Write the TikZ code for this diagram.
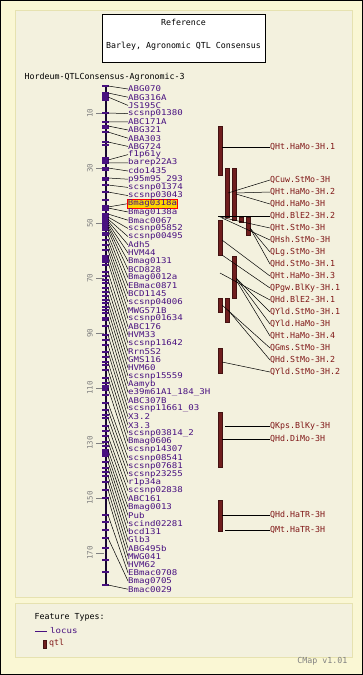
\documentclass[tikz,border=0pt]{standalone}
\usepackage{fontspec}
\newfontfamily\pix{DejaVu Sans Mono}
\newfontfamily\pixw[FakeStretch=1.15]{DejaVu Sans Mono}
\definecolor{outerbg}{RGB}{250,247,212}
\definecolor{innerbg}{RGB}{243,241,222}
\definecolor{panelline}{RGB}{230,226,176}
\definecolor{mk}{RGB}{72,16,128}
\definecolor{qt}{RGB}{128,24,24}
\definecolor{qbar}{RGB}{112,30,30}
\definecolor{chr}{RGB}{24,8,48}
\definecolor{sc}{RGB}{128,128,128}
\definecolor{hlfill}{RGB}{255,214,0}
\begin{document}
\begin{tikzpicture}[x=1pt,y=-1pt,
  font=\pix\fontsize{8.3}{9}\selectfont,
  mlabel/.style={anchor=west,text=mk,inner sep=0pt,font=\pixw\fontsize{7.9}{8}\selectfont},
  hllabel/.style={anchor=west,text=mk,inner sep=0.6pt,fill=hlfill,draw=red,line width=0.6pt,font=\pixw\fontsize{7.9}{8}\selectfont},
  qlabel/.style={anchor=west,text=qt,inner sep=0pt},
  plain/.style={anchor=west,text=black,inner sep=0.5pt},
  conn/.style={draw=black,line width=0.5pt},
  tickm/.style={draw=mk,line width=1.2pt},
  sqm/.style={fill=mk},
  qtlbar/.style={fill=qbar,draw=qbar!60!black,line width=0.3pt,inner sep=0pt,minimum width=4pt,anchor=north west},
  scl/.style={text=sc,rotate=90,inner sep=0.5pt,font=\pix\fontsize{7.5}{8}\selectfont},
]
\useasboundingbox (0,0) rectangle (363,675);
% backgrounds
\fill[outerbg] (0,0) rectangle (363,675);
\draw[black,line width=1pt] (0.5,0.5) rectangle (362.5,674.5);
\filldraw[fill=innerbg,draw=panelline,line width=0.8pt] (15.5,10.5) rectangle (352.5,597.5);
\filldraw[fill=innerbg,draw=panelline,line width=0.8pt] (15.5,603.5) rectangle (352.5,657.5);
% reference box
\node[draw=black,fill=white,line width=0.8pt,minimum width=163pt,minimum height=48pt,inner sep=0pt] (ref) at (183.5,38) {};
\node[text=black,inner sep=0.5pt] (reft) at (183.5,22) {Reference};
\node[text=black,inner sep=0.5pt] (refs) at (183.5,46) {Barley, Agronomic QTL Consensus};
\node[plain] (title) at (24,77) {Hordeum-QTLConsensus-Agronomic-3};
% scale
\foreach \v in {10,30,50,70,90,110,130,150,170}{
  \pgfmathsetmacro\sy{85.5+2.75*\v}
  \draw[sc,line width=0.6pt] (96,\sy) -- (104,\sy);
  \node[scl] (s\v) at (90,\sy) {\v};
}
% chromosome
\coordinate (ctop) at (105.5,86);
\coordinate (cbot) at (105.5,585);
\draw[chr,line width=2pt] (ctop) -- (cbot);
% squares / blocks
\foreach \a/\b in {94/100,157/163,205/211,214/229,257/263,385/391,449/455}{
  \fill[sqm] (102,\a) rectangle (109,\b);
}
% extra ticks
\foreach \t in {100,128,145,170,180,200,233,265,276,283,292,300,307,313,320,340,357,365,383,395,415,431,446,472,522,530,548,560,572}{
  \draw[tickm] (102,\t) -- (109,\t);
}
% markers
\foreach \n/\my [count=\i] in {ABG070/86,ABG316A/93,JS195C/97,scsnp01380/113,ABC171A/122,ABG321/126,ABA303/132,ABG724/142,f1p61y/160,barep22A3/163,cdo1435/168,p95m95\_293/178,scsnp01374/185,scsnp03043/192,Bmag0318a/207,Bmag0138a/208,Bmac0067/214,scsnp05852/217,scsnp00495/219,Adh5/221,HVM44/223,Bmag0131/225,BCD828/227,Bmag0012a/230,EBmac0871/235,BCD1145/240,scsnp04006/245,MWG571B/250,scsnp01634/256,ABC176/262,HVM33/272,scsnp11642/280,Rrn5S2/288,GMS116/296,HVM60/303,scsnp15559/310,Aamyb/318,e39m61A1\_184\_3H/326,ABC307B/335,scsnp11661\_03/345,X3.2/352,X3.3/362,scsnp03814\_2/370,Bmag0606/378,scsnp14307/388,scsnp08541/403,scsnp07681/410,scsnp23255/418,r1p34a/426,scsnp02838/436,ABC161/442,Bmag0013/450,Pub/456,scind02281/462,bcd131/468,Glb3/476,ABG495b/482,MWG041/490,HVM62/498,EBmac0708/515,Bmag0705/538,Bmac0029/585}{
  \pgfmathsetmacro\ly{89+8.2*(\i-1)}
  \coordinate (c\i) at (108,\my);
  \draw[tickm] (102,\my) -- (109,\my);
  \ifnum\i=15
    \node[hllabel] (m\i) at (127,\ly) {\n};
  \else
    \node[mlabel] (m\i) at (128,\ly) {\n};
  \fi
  \draw[conn] (c\i) -- (m\i.west);
}
% QTL bars
\node[qtlbar,minimum height=49pt] (bA) at (218,126) {};
\node[qtlbar,minimum height=49pt] (bB) at (225,168) {};
\node[qtlbar,minimum height=52pt] (bC) at (232,168) {};
\node[qtlbar,minimum height=5pt]  (bD) at (239,217) {};
\node[qtlbar,minimum height=18pt] (bE) at (246,217) {};
\node[qtlbar,minimum height=35pt] (bF) at (218,220) {};
\node[qtlbar,minimum height=42pt] (bG) at (232,256) {};
\node[qtlbar,minimum height=14pt] (bH) at (218,298) {};
\node[qtlbar,minimum height=24pt] (bI) at (225,298) {};
\node[qtlbar,minimum height=25pt] (bJ) at (218,348) {};
\node[qtlbar,minimum height=55pt] (bK) at (218,412) {};
\node[qtlbar,minimum height=31pt] (bL) at (218,500) {};
% QTL labels and connectors
\foreach \n/\ly/\sx/\sy [count=\j] in {
  QHt.HaMo-3H.1/147/222/147,
  QCuw.StMo-3H/180/228/193,
  QHt.HaMo-3H.2/192/236/193,
  QHd.HaMo-3H/204/236/194,
  QHd.BlE2-3H.2/216/218/216,
  QHt.StMo-3H/228/220/217,
  QHsh.StMo-3H/240/222/218,
  QLg.StMo-3H/252/250/228,
  QHd.StMo-3H.1/264/250/228,
  QHt.HaMo-3H.3/276/222/240,
  QPgw.BlKy-3H.1/288/222/255,
  QHd.BlE2-3H.1/300/220/273,
  QYld.StMo-3H.1/312/236/278,
  QYld.HaMo-3H/324/236/278,
  QHt.HaMo-3H.4/336/236/280,
  QGms.StMo-3H/348/222/305,
  QHd.StMo-3H.2/360/228/310,
  QYld.StMo-3H.2/372/222/362,
  QKps.BlKy-3H/426/225/426,
  QHd.DiMo-3H/439/222/439,
  QHd.HaTR-3H/515/222/515,
  QMt.HaTR-3H/530/225/530}{
  \coordinate (qs\j) at (\sx,\sy);
  \node[qlabel] (q\j) at (270,\ly) {\n};
  \draw[conn] (qs\j) -- (q\j.west);
}
% legend
\node[plain] (ft) at (34,617) {Feature Types:};
\coordinate (la) at (35,631);
\coordinate (lb) at (47,631);
\draw[mk,line width=0.8pt] (la) -- (lb);
\node[mlabel] (lloc) at (50,631) {locus};
\node[qtlbar,minimum width=3pt,minimum height=8pt] (lq) at (43,640) {};
\node[qlabel] (lqt) at (49,643.5) {qtl};
\node[text=sc,anchor=east,inner sep=0.5pt] (cm) at (348,661) {CMap v1.01};
\end{tikzpicture}
\end{document}
